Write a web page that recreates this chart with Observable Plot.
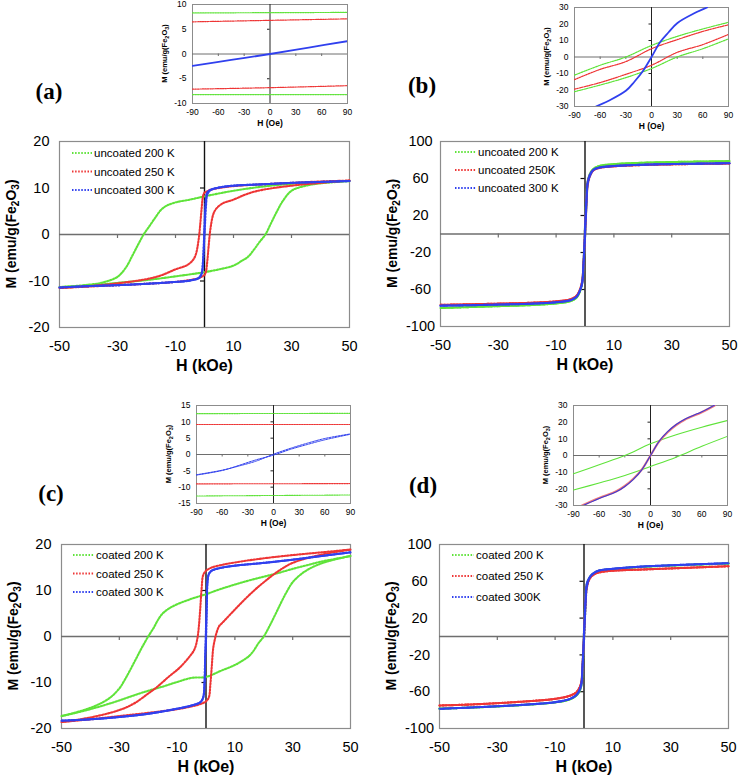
<!DOCTYPE html>
<html>
<head>
<meta charset="utf-8">
<script src="https://cdn.jsdelivr.net/npm/d3@7"></script>
<script src="https://cdn.jsdelivr.net/npm/@observablehq/plot@0.6"></script>
<style>
  html, body { margin: 0; padding: 0; background: #fff; }
  #root { position: relative; width: 738px; height: 776px; overflow: hidden; background: #fff; }
  #root svg { position: absolute; max-width: none; }
</style>
</head>
<body>
<div id="root"></div>
<script>
// ---------------- DATA ----------------
const X_TICKS = [-50, -30, -10, 10, 30, 50];
const X_MINOR = [-30, -10, 10, 30];
const IX_TICKS = [-90, -60, -30, 0, 30, 60, 90];
const IX_MINOR = [-60, -30, 30, 60];

const Y_TICKS_AC = [20, 10, 0, -10, -20];
const Y_MINOR_AC = [10, -10];
const Y_TICKS_BD = [100, 60, 20, -20, -60, -100];
const Y_MINOR_BD = [60, 20, -20, -60];

const LEG_A = ["uncoated 200 K", "uncoated 250 K", "uncoated 300 K"];
const LEG_B = ["uncoated 200 K", "uncoated 250K", "uncoated 300 K"];
const LEG_C = ["coated 200 K", "coated 250 K", "coated 300 K"];
const LEG_D = ["coated 200 K", "coated 250 K", "coated 300K"];
const PANEL_LABELS = ["(a)", "(b)", "(c)", "(d)"];

// Panel (a): uncoated
const H_a200_dn = [50,40,30,20,10,0,-5,-10,-13,-15,-17,-19,-21,-23,-25,-27,-30,-35,-40,-50];
const M_a200_dn = [11.5,11.2,10.9,10.3,9.4,8.2,7.5,6.9,6.2,5.3,3.6,1.8,0,-2.3,-4.7,-7.0,-9.1,-10.3,-10.8,-11.3];
const H_a200_up = [-50,-40,-30,-20,-10,0,5,10,13,15,17,19,21,23,25,27,30,35,40,50];
const M_a200_up = [-11.3,-11.0,-10.4,-9.8,-9.0,-8.1,-7.5,-6.7,-5.6,-4.8,-3.3,-1.6,0,2.5,5.0,7.2,9.4,10.5,11.0,11.5];

const H_a250_dn = [50,40,30,20,10,5,2,1,0,-0.5,-1,-1.5,-2,-3,-4,-6,-10,-15,-20,-30,-40,-50];
const M_a250_dn = [11.6,11.4,11.1,10.8,10.4,10.0,9.6,9.3,9.0,8.3,5.5,2.0,-1.0,-4.3,-5.5,-6.6,-7.5,-8.8,-9.6,-10.5,-11.1,-11.5];
const H_a250_up = [-50,-40,-30,-20,-10,-5,-2,-1,0,0.5,1,1.5,2,3,4,6,10,15,20,30,40,50];
const M_a250_up = [-11.5,-11.2,-10.9,-10.6,-10.2,-9.8,-9.4,-9.1,-8.7,-8.0,-5.5,-2.0,1.0,4.3,5.5,6.6,7.5,8.8,9.6,10.5,11.1,11.6];

const H_a300_dn = [50,40,30,20,10,5,2,1,0.5,0.2,0,-0.2,-0.5,-1,-2,-5,-10,-20,-30,-40,-50];
const M_a300_dn = [11.5,11.3,11.1,10.8,10.5,10.1,9.6,9.1,8.0,5.0,2.0,-1.5,-5.5,-8.3,-9.3,-9.9,-10.2,-10.6,-10.9,-11.1,-11.4];
const H_a300_up = [-50,-40,-30,-20,-10,-5,-2,-1,-0.5,-0.2,0,0.2,0.5,1,2,5,10,20,30,40,50];
const M_a300_up = [-11.4,-11.1,-10.9,-10.6,-10.2,-9.9,-9.4,-8.6,-6.0,-2.5,0,2.5,6.0,8.6,9.5,10.1,10.5,10.8,11.1,11.3,11.5];

// Panel (b): uncoated, wide scale
const H_bd_dn = [50,40,30,20,10,5,3,2,1,0.5,0,-0.5,-1,-2,-3,-5,-10,-20,-30,-40,-50];
const H_bd_up = [-50,-40,-30,-20,-10,-5,-3,-2,-1,-0.5,0,0.5,1,2,3,5,10,20,30,40,50];
const M_b200_dn = [78.8,78.3,77.8,77.0,75.5,73.5,70.5,67,58,40,8,-30,-52,-64,-69,-72.5,-75,-77,-78,-79,-80];
const M_b200_up = [-80,-79,-78,-77,-75,-72.5,-69,-64,-54,-33,-5,32,56,66,70.5,73.5,75.5,77,77.8,78.3,78.8];
const M_b250_dn = [76.2,75.8,75.3,74.6,73.2,71.5,69,65.5,57,38,6,-30,-51,-62,-67,-70.5,-72.8,-74.5,-75.3,-76,-76.6];
const M_b250_up = [-76.6,-76,-75.3,-74.5,-72.8,-70.5,-67,-62,-53,-32,-4,31,54,64.5,69,71.5,73.2,74.6,75.3,75.8,76.2];
const M_b300_dn = [76.5,76.1,75.6,74.9,73.5,71.8,69.5,66,57.5,39,7,-30,-52,-63,-68,-71.5,-73.8,-75.5,-76.3,-77,-77.5];
const M_b300_up = [-77.5,-77,-76.3,-75.5,-73.8,-71.5,-68,-63,-54,-33,-5,31,55,65,69.5,71.8,73.5,74.9,75.6,76.1,76.5];

// Panel (c): coated
const H_c200_dn = [50,45,40,35,30,25,20,15,10,5,0,-5,-10,-13,-15,-16,-17,-18,-19,-20,-22,-24,-26,-28,-30,-33,-36,-40,-45,-50];
const M_c200_dn = [17.5,16.9,16.3,15.5,14.7,13.8,13.0,12.2,11.3,10.3,9.2,8.2,7.0,6.0,5.0,4.2,3.2,2.0,1.0,0,-2.2,-4.6,-7.0,-9.3,-11.3,-13.2,-14.4,-15.5,-16.5,-17.3];
const H_c200_up = [-50,-45,-40,-35,-30,-25,-20,-15,-10,-5,0,5,10,13,15,16,17,18,19,20,22,24,26,28,30,33,36,40,45,50];
const M_c200_up = [-17.3,-16.6,-15.8,-14.9,-13.9,-12.8,-11.8,-10.9,-9.9,-9.0,-8.8,-7.5,-6.2,-5.1,-4.2,-3.5,-2.6,-1.6,-0.8,0,2.3,4.8,7.4,9.8,11.8,13.6,14.8,15.9,16.8,17.5];

const H_c250_dn = [50,40,30,20,10,5,2,0,-1,-1.5,-2,-2.5,-3,-4,-6,-9,-13,-17,-20,-25,-30,-40,-50];
const M_c250_dn = [18.9,18.3,17.7,17.0,16.1,15.5,15.0,14.3,13.3,10.5,6,2,-0.5,-2.8,-4.6,-6.7,-8.8,-11,-12.4,-14.6,-16,-17.6,-18.6];
const H_c250_up = [-50,-40,-30,-20,-10,-5,-2,0,1,1.5,2,2.5,3,3.5,4.5,6,9,13,17,20,25,30,40,50];
const M_c250_up = [-18.6,-18.0,-17.3,-16.6,-15.8,-15.2,-14.7,-14.1,-13.2,-10.5,-6.5,-2.5,-0.8,0.5,2.2,3.2,5.2,7.8,10.2,11.8,14.2,16.0,17.8,18.9];

const H_c300_dn = [50,40,30,20,10,5,2,1,0.5,0.3,0,-0.3,-0.5,-1,-2,-5,-10,-20,-30,-40,-50];
const M_c300_dn = [18.3,17.5,16.7,16.0,15.4,14.9,14.3,13.6,12,8,2,-5,-10,-13.3,-14.3,-15,-15.7,-16.8,-17.5,-18.0,-18.3];
const H_c300_up = [-50,-40,-30,-20,-10,-5,-2,-1,-0.5,-0.3,0,0.3,0.5,1,2,5,10,20,30,40,50];
const M_c300_up = [-18.3,-18.0,-17.5,-16.8,-15.7,-15,-14.3,-13.3,-10,-5,-1,7,11.5,13.6,14.3,14.9,15.4,16.0,16.7,17.5,18.3];

// Panel (d): coated, wide scale
const M_d200_dn = [79.3,78.3,77.1,75.7,73.3,71.2,67.8,64.3,57.5,40,5,-31,-53,-62,-65,-68.5,-71.6,-74.2,-76,-77.4,-78.4];
const M_d200_up = [-78.4,-77.4,-76,-74.2,-71.6,-68.5,-65,-62,-55,-35,-4,32,55,64.3,67.8,71.2,73.3,75.7,77.1,78.3,79.3];
const M_d250_dn = [76.4,75.2,74,72.8,71.5,69.5,66.5,63,56,38,4,-30,-50,-58,-61.5,-64.5,-67.8,-70.5,-72.5,-74,-75];
const M_d250_up = [-75,-74,-72.5,-70.5,-67.8,-64.5,-61.5,-58,-52,-32,-3,32,53,63,66.5,69.5,71.5,72.8,74,75.2,76.4];
const M_d300_dn = [79.7,78.6,77.4,76,73.6,71.5,68,64.5,58,40,5,-30,-52,-61,-64.5,-68,-71.4,-74,-75.8,-77.3,-78.6];
const M_d300_up = [-78.6,-77.3,-75.8,-74,-71.4,-68,-64.5,-61,-54,-34,-4,31,54,64.5,68,71.5,73.6,76,77.4,78.6,79.7];

// Insets (H in Oe)
const H_flat = [-90, 90];
const H_three = [-90, 0, 90];
const M_ia200_hi = [8.3, 8.4];
const M_ia200_lo = [-8.2, -8.2];
const M_ia250_hi = [6.5, 6.8, 7.1];
const M_ia250_lo = [-7.1, -6.8, -6.4];
const H_ia300 = [-90, -45, 0, 45, 90];
const M_ia300 = [-2.4, -1.2, 0, 1.3, 2.6];

const H_i7 = [-90, -60, -30, 0, 30, 60, 90];
const M_ib200_hi = [-11, -5, 0, 7, 12.5, 17, 21];
const M_ib200_lo = [-21, -17, -12.5, -7, 0, 5, 11];
const M_ib250_hi = [-13.7, -7.5, -2.8, 5, 10.5, 15.5, 19.5];
const M_ib250_lo = [-19.5, -15.5, -10.5, -5, 2.8, 7.5, 13.7];
const H_ib300 = [-65, -50, -30, -20, -10, 0, 10, 20, 30, 50, 65];
const M_ib300 = [-30, -26.5, -20.5, -15, -8.5, 0, 9, 15, 20.5, 26.5, 30];

const M_ic200_hi = [12.5, 12.6];
const M_ic200_lo = [-12.7, -12.4];
const M_ic250_hi = [9.2, 9.2];
const M_ic250_lo = [-9.0, -8.9];
const H_ic300 = [-90, -60, -40, -20, 0, 20, 40, 60, 90];
const M_ic300_a = [-6.2, -4.8, -3.5, -2.0, 0.1, 1.9, 3.5, 4.9, 6.3];
const M_ic300_b = [-6.3, -4.9, -3.3, -1.6, -0.2, 1.6, 3.1, 4.5, 6.2];

const M_id200_hi = [-11, -5.5, 0, 7, 12.5, 17, 21];
const M_id200_lo = [-20.7, -16.5, -12, -6.6, -1, 5.5, 11.5];
const H_id_s = [-80, -60, -40, -30, -20, -10, 0, 10, 20, 30, 40, 60, 75];
const M_id250 = [-30, -25.5, -21.5, -18.3, -14, -8.3, 0, 8.3, 14, 18.3, 21.5, 26, 30];
const M_id300 = [-30.3, -25.8, -21.8, -18.6, -14.3, -8.5, 0, 8.5, 14.3, 18.6, 21.8, 26.2, 30.3];

// ---------------- DRAWING ----------------
const FONT = '"Liberation Sans", Arial, Helvetica, sans-serif';
const GREEN = "#5fe33a", RED = "#ee3535", BLUE = "#3040ee";
const DOT = "1.5,1.6";
const root = document.getElementById("root");

function rowsOf(branches) {
  return branches.flatMap((b, j) => b[0].map((h, i) => ({h, m: b[1][i], k: j})));
}

function yTitle(g, x, y, size, subSize, shift) {
  const t = g.append("text")
    .attr("transform", `translate(${x},${y}) rotate(-90)`)
    .attr("text-anchor", "middle")
    .style("font-weight", "bold").style("font-size", size + "px").style("font-family", FONT)
    .attr("fill", "#000");
  t.append("tspan").text("M (emu/g(Fe");
  t.append("tspan").style("font-size", subSize + "px").attr("dy", shift).text("2");
  t.append("tspan").attr("dy", -shift).text("O");
  t.append("tspan").style("font-size", subSize + "px").attr("dy", shift).text("3");
  t.append("tspan").attr("dy", -shift).text(")");
}

function mainPanel(cfg) {
  const ML = 62, MT = 14, MR = 8, MB = 50;
  const {fx, fy, fw, fh, yDomain, yTicks, yMinor, series, legend, centerY} = cfg;
  const lines = series.map(s => Plot.line(rowsOf(s.branches), {
    x: "h", y: "m", z: "k", stroke: s.color, strokeWidth: 2.1,
    strokeDasharray: DOT, curve: "catmull-rom"
  }));
  const plot = Plot.plot({
    width: fw + ML + MR, height: fh + MT + MB,
    marginLeft: ML, marginTop: MT, marginRight: MR, marginBottom: MB,
    x: {domain: [-50, 50], axis: null}, y: {domain: yDomain, axis: null},
    style: {fontFamily: FONT, background: "transparent", overflow: "visible", color: "#000"},
    marks: [
      Plot.frame({stroke: "#8c8c8c", strokeWidth: 1.2}),
      Plot.ruleY([0], {stroke: "#6e6e6e", strokeWidth: 1.3}),
      Plot.ruleX(X_MINOR, {x: d => d, y1: 0, y2: 0, insetTop: 4, stroke: "#6e6e6e", strokeWidth: 1.2}),
      Plot.ruleX([0], {stroke: "#111", strokeWidth: 1.4}),
      Plot.ruleY(yMinor, {y: d => d, x1: 0, x2: 0, insetRight: 4, stroke: "#111", strokeWidth: 1.2}),
      ...lines,
      Plot.text(X_TICKS, {x: d => d, y: yDomain[0], dy: 18.5, text: d => String(d), fontSize: 14.5}),
      Plot.text(yTicks, {x: -50, y: d => d, dx: centerY ? -20 : -10, textAnchor: centerY ? "middle" : "end",
        text: d => String(d), fontSize: 14.5}),
      Plot.text(["H (kOe)"], {frameAnchor: "bottom", lineAnchor: "middle", dy: 38, text: d => d,
        fontWeight: "bold", fontSize: 16})
    ]
  });
  const g = d3.select(plot).append("g").attr("text-anchor", "start");
  yTitle(g, ML - 43, MT + fh / 2, 14, 10, 3);
  legend.labels.forEach((lab, i) => {
    const y = MT + legend.y0 + i * legend.step;
    g.append("line").attr("x1", ML + legend.l1).attr("x2", ML + legend.l2).attr("y1", y).attr("y2", y)
      .attr("stroke", series[i].color).attr("stroke-width", 2).attr("stroke-dasharray", DOT);
    g.append("text").attr("x", ML + legend.tx).attr("y", y).attr("dy", "0.36em")
      .attr("text-anchor", "start")
      .style("font-size", "11.5px").style("font-family", FONT).attr("fill", "#000").text(lab);
  });
  plot.style.left = (fx - ML) + "px";
  plot.style.top = (fy - MT) + "px";
  root.appendChild(plot);
}

function insetPanel(cfg) {
  const ML = 40, MT = 8, MR = 8, MB = 30;
  const {fx, fy, fw, fh, yDomain, yTicks, yMinor, series} = cfg;
  const lines = series.map(s => Plot.line(rowsOf(s.branches), {
    x: "h", y: "m", z: "k", stroke: s.color, strokeWidth: s.width,
    strokeDasharray: s.dash, curve: "catmull-rom", clip: true
  }));
  const plot = Plot.plot({
    width: fw + ML + MR, height: fh + MT + MB,
    marginLeft: ML, marginTop: MT, marginRight: MR, marginBottom: MB,
    x: {domain: [-90, 90], axis: null}, y: {domain: yDomain, axis: null},
    style: {fontFamily: FONT, background: "transparent", overflow: "visible", color: "#000"},
    marks: [
      Plot.frame({stroke: "#8c8c8c", strokeWidth: 1}),
      Plot.ruleY([0], {stroke: "#6e6e6e", strokeWidth: 1}),
      Plot.ruleX(IX_MINOR, {x: d => d, y1: 0, y2: 0, insetTop: 2.5, stroke: "#6e6e6e"}),
      Plot.ruleX([0], {stroke: "#222", strokeWidth: 1}),
      Plot.ruleY(yMinor, {y: d => d, x1: 0, x2: 0, insetRight: 2.5, stroke: "#222"}),
      ...lines,
      Plot.text(IX_TICKS, {x: d => d, y: yDomain[0], dy: 8.5, text: d => String(d), fontSize: 8.5}),
      Plot.text(yTicks, {x: -90, y: d => d, dx: -6, textAnchor: "end", text: d => String(d), fontSize: 8.5}),
      Plot.text(["H (Oe)"], {frameAnchor: "bottom", lineAnchor: "middle", dy: 20, text: d => d,
        fontWeight: "bold", fontSize: 8.5})
    ]
  });
  const g = d3.select(plot).append("g");
  yTitle(g, ML - 25, MT + fh / 2, 7.5, 5.5, 1.8);
  plot.style.left = (fx - ML) + "px";
  plot.style.top = (fy - MT) + "px";
  root.appendChild(plot);
}

// Panel (a)
mainPanel({
  fx: 59, fy: 141, fw: 290, fh: 186, yDomain: [-20, 20], yTicks: Y_TICKS_AC, yMinor: Y_MINOR_AC,
  series: [
    {color: GREEN, branches: [[H_a200_dn, M_a200_dn], [H_a200_up, M_a200_up]]},
    {color: RED, branches: [[H_a250_dn, M_a250_dn], [H_a250_up, M_a250_up]]},
    {color: BLUE, branches: [[H_a300_dn, M_a300_dn], [H_a300_up, M_a300_up]]}
  ],
  legend: {labels: LEG_A, y0: 12, step: 18.5, l1: 13, l2: 33, tx: 35}
});
// Panel (b)
mainPanel({
  fx: 440, fy: 141, fw: 289, fh: 185, yDomain: [-100, 100], yTicks: Y_TICKS_BD, yMinor: Y_MINOR_BD, centerY: true,
  series: [
    {color: GREEN, branches: [[H_bd_dn, M_b200_dn], [H_bd_up, M_b200_up]]},
    {color: RED, branches: [[H_bd_dn, M_b250_dn], [H_bd_up, M_b250_up]]},
    {color: BLUE, branches: [[H_bd_dn, M_b300_dn], [H_bd_up, M_b300_up]]}
  ],
  legend: {labels: LEG_B, y0: 11, step: 18, l1: 15, l2: 36, tx: 38}
});
// Panel (c)
mainPanel({
  fx: 61, fy: 544, fw: 289, fh: 184, yDomain: [-20, 20], yTicks: Y_TICKS_AC, yMinor: Y_MINOR_AC,
  series: [
    {color: GREEN, branches: [[H_c200_dn, M_c200_dn], [H_c200_up, M_c200_up]]},
    {color: RED, branches: [[H_c250_dn, M_c250_dn], [H_c250_up, M_c250_up]]},
    {color: BLUE, branches: [[H_c300_dn, M_c300_dn], [H_c300_up, M_c300_up]]}
  ],
  legend: {labels: LEG_C, y0: 11, step: 18.5, l1: 12, l2: 33, tx: 35}
});
// Panel (d)
mainPanel({
  fx: 439, fy: 544, fw: 289, fh: 184, yDomain: [-100, 100], yTicks: Y_TICKS_BD, yMinor: Y_MINOR_BD, centerY: true,
  series: [
    {color: GREEN, branches: [[H_bd_dn, M_d200_dn], [H_bd_up, M_d200_up]]},
    {color: RED, branches: [[H_bd_dn, M_d250_dn], [H_bd_up, M_d250_up]]},
    {color: BLUE, branches: [[H_bd_dn, M_d300_dn], [H_bd_up, M_d300_up]]}
  ],
  legend: {labels: LEG_D, y0: 11, step: 21, l1: 13, l2: 35, tx: 37}
});

// Insets
insetPanel({
  fx: 192, fy: 4, fw: 155, fh: 99, yDomain: [-10, 10], yTicks: [10, 5, 0, -5, -10], yMinor: [5, -5],
  series: [
    {color: GREEN, width: 1.2, dash: "1.5,1", branches: [[H_flat, M_ia200_hi], [H_flat, M_ia200_lo]]},
    {color: RED, width: 1.2, dash: "1.5,1", branches: [[H_three, M_ia250_hi], [H_three, M_ia250_lo]]},
    {color: BLUE, width: 1.8, dash: null, branches: [[H_ia300, M_ia300]]}
  ]
});
insetPanel({
  fx: 574, fy: 7, fw: 154, fh: 99, yDomain: [-30, 30], yTicks: [30, 20, 10, 0, -10, -20, -30], yMinor: [20, 10, -10, -20],
  series: [
    {color: GREEN, width: 1.2, dash: "1.5,1", branches: [[H_i7, M_ib200_hi], [H_i7, M_ib200_lo]]},
    {color: RED, width: 1.2, dash: "1.5,1", branches: [[H_i7, M_ib250_hi], [H_i7, M_ib250_lo]]},
    {color: BLUE, width: 1.8, dash: null, branches: [[H_ib300, M_ib300]]}
  ]
});
insetPanel({
  fx: 196, fy: 405, fw: 154, fh: 98, yDomain: [-15, 15], yTicks: [15, 10, 5, 0, -5, -10, -15], yMinor: [10, 5, -5, -10],
  series: [
    {color: GREEN, width: 1.1, dash: "1.5,1", branches: [[H_flat, M_ic200_hi], [H_flat, M_ic200_lo]]},
    {color: RED, width: 1.1, dash: "1.5,1", branches: [[H_flat, M_ic250_hi], [H_flat, M_ic250_lo]]},
    {color: BLUE, width: 1.0, dash: "2,1", branches: [[H_ic300, M_ic300_a], [H_ic300, M_ic300_b]]}
  ]
});
insetPanel({
  fx: 573, fy: 405, fw: 154, fh: 100, yDomain: [-30, 30], yTicks: [30, 20, 10, 0, -10, -20, -30], yMinor: [20, 10, -10, -20],
  series: [
    {color: GREEN, width: 1.1, dash: null, branches: [[H_i7, M_id200_hi], [H_i7, M_id200_lo]]},
    {color: "#f07a7a", width: 2.2, dash: null, branches: [[H_id_s, M_id250]]},
    {color: "#3a3ad8", width: 1.1, dash: null, branches: [[H_id_s, M_id300]]}
  ]
});

// Panel letters
const overlay = d3.select(root).append("svg").attr("width", 738).attr("height", 776)
  .style("left", "0px").style("top", "0px").style("pointer-events", "none");
const letterPos = [[49, 98.5], [422, 92.5], [51, 500.5], [423, 492.5]];
PANEL_LABELS.forEach((lab, i) => {
  overlay.append("text").attr("x", letterPos[i][0]).attr("y", letterPos[i][1]).attr("text-anchor", "middle")
    .style("font-family", '"Liberation Serif", "Times New Roman", serif').style("font-weight", "bold")
    .style("font-size", "23px").attr("fill", "#000").text(lab);
});
</script>
</body>
</html>
